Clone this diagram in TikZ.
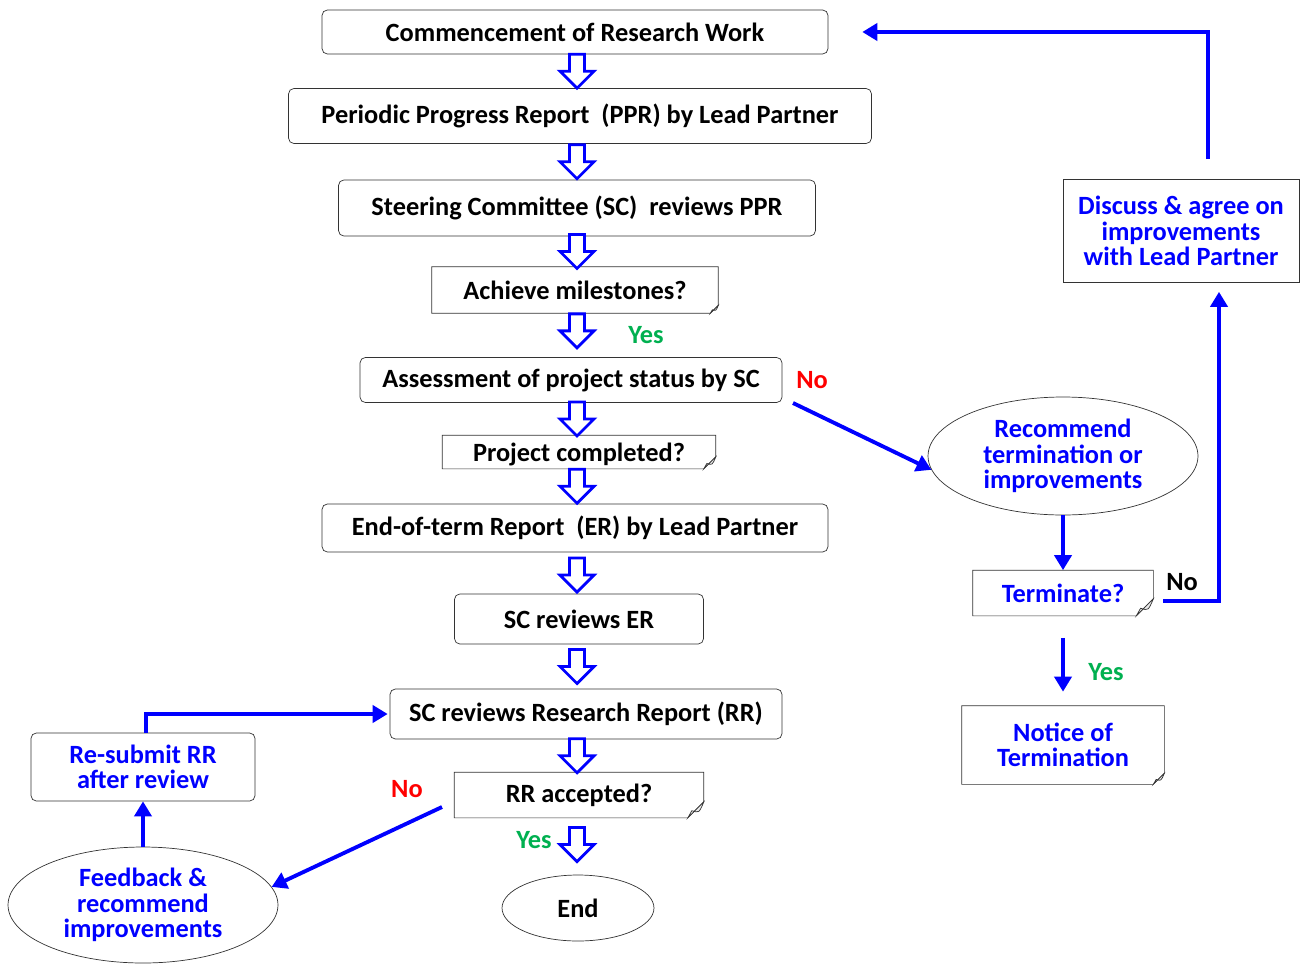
\documentclass[tikz,border=0pt]{standalone}
\usepackage{fontspec}
\setmainfont{Carlito}
\usepackage{tikz}
\usetikzlibrary{arrows.meta,shapes.geometric,calc}

\definecolor{okgreen}{RGB}{0,176,80}

% outline of a box with a folded bottom-right corner
\newcommand{\foldnote}[2][0.28cm]{%
  \draw[black!80, thin] (#2.north west) -- (#2.north east) -- ([yshift=#1]#2.south east)
    -- ([xshift=-#1]#2.south east) -- (#2.south west) -- cycle;
  \draw[black!80, thin, fill=black!8] ([yshift=#1]#2.south east)
    .. controls ([xshift=-0.3*#1,yshift=0.3*#1]#2.south east) .. ([xshift=-0.75*#1,yshift=0.45*#1]#2.south east)
    -- ([xshift=-#1]#2.south east) -- cycle;
}

\begin{document}
\begin{tikzpicture}[
                    x=0.02cm, y=-0.02cm,
                    box style/.style={
                        draw=black!80,
                        rounded corners=3pt,
                        align=center,
                        inner sep=0pt,
                        font=\bfseries\fontsize{15}{14.5}\selectfont
                    },
                    note style/.style={
                        align=center,
                        inner sep=0pt,
                        font=\bfseries\fontsize{15}{14.5}\selectfont
                    },
                    oval style/.style={
                        ellipse,
                        draw=black!80,
                        align=center,
                        inner sep=0pt,
                        font=\bfseries\fontsize{15}{14.5}\selectfont
                    },
                    hollow/.pic={
                        \draw[blue, line width=1.6pt, fill=white, line join=miter]
                            (-0.15cm,0.34cm) -- (0.15cm,0.34cm) -- (0.15cm,0cm) -- (0.34cm,0cm)
                            -- (0cm,-0.34cm) -- (-0.34cm,0cm) -- (-0.15cm,0cm) -- cycle;
                    },
                    flow style/.style={draw=blue, line width=2.2pt, -{Triangle[length=0.3cm,width=0.34cm]}},
                    tag style/.style={font=\bfseries\fontsize{15}{14.5}\selectfont}
                ]
    \useasboundingbox (0,0) rectangle (1307,963);

    % main column
    \node[box style, minimum width=10.12cm, minimum height=0.88cm] (comm) at (575,32) {Commencement of Research Work};
    \node[box style, minimum width=11.66cm, minimum height=1.10cm] (ppr) at (580,116) {Periodic Progress Report\ \ (PPR) by Lead Partner};
    \node[box style, minimum width=9.54cm, minimum height=1.12cm] (scppr) at (577,208) {Steering Committee (SC)\ \ reviews PPR};
    \node[note style, minimum width=5.72cm, minimum height=0.92cm] (miles) at (575,290) {Achieve milestones?};
    \node[box style, minimum width=8.44cm, minimum height=0.90cm] (assess) at (571,380) {Assessment of project status by SC};
    \node[note style, minimum width=5.46cm, minimum height=0.66cm, text depth=-4pt] (compl) at (579,452) {Project completed?};
    \node[box style, minimum width=10.12cm, minimum height=0.96cm] (er) at (575,528) {End-of-term Report\ \ (ER) by Lead Partner};
    \node[box style, minimum width=4.98cm, minimum height=1.00cm] (scer) at (579,619) {SC reviews ER};
    \node[box style, minimum width=7.84cm, minimum height=1.00cm] (scrr) at (586,714) {SC reviews Research Report (RR)};
    \node[note style, minimum width=4.98cm, minimum height=0.90cm] (rracc) at (579,795) {RR accepted?};
    \node[oval style, minimum width=3.04cm, minimum height=1.32cm] (end) at (578,908) {End};

    % left loop
    \node[box style, text=blue, minimum width=4.48cm, minimum height=1.36cm] (resub) at (143,767) {Re-submit RR\\after review};
    \node[oval style, text=blue, minimum width=5.40cm, minimum height=2.32cm] (feedb) at (143,905) {Feedback \&\\recommend\\improvements};

    % right loop
    \node[oval style, text=blue, minimum width=5.40cm, minimum height=2.36cm] (recom) at (1063,456) {Recommend\\termination or\\improvements};
    \node[note style, text=blue, minimum width=3.60cm, minimum height=0.90cm] (term) at (1063,593) {Terminate?};
    \node[note style, text=blue, minimum width=4.04cm, minimum height=1.56cm] (notice) at (1063,745) {Notice of\\Termination};
    \node[box style, rounded corners=0pt, text=blue, minimum width=4.72cm, minimum height=2.06cm] (discuss) at (1181,231) {Discuss \& agree on\\improvements\\with Lead Partner};

    \foldnote[0.16cm]{miles}
    \foldnote[0.24cm]{compl}
    \foldnote[0.32cm]{rracc}
    \foldnote[0.34cm]{term}
    \foldnote[0.22cm]{notice}

    % hollow arrows down the column
    \coordinate (colx) at (577,0);
    \pic (h1) at ($(comm.south -| colx)!0.5!(ppr.north -| colx)$) {hollow};
    \pic (h2) at ($(ppr.south -| colx)!0.5!(scppr.north -| colx)$) {hollow};
    \pic (h3) at ($(scppr.south -| colx)!0.5!(miles.north -| colx)$) {hollow};
    \pic (h4) at ($(miles.south -| colx)!0.4!(assess.north -| colx)$) {hollow};
    \pic (h5) at ($(assess.south -| colx)!0.5!(compl.north -| colx)$) {hollow};
    \pic (h6) at ($(compl.south -| colx)!0.5!(er.north -| colx)$) {hollow};
    \pic (h7) at ($(er.south -| colx)!0.55!(scer.north -| colx)$) {hollow};
    \pic (h8) at ($(scer.south -| colx)!0.5!(scrr.north -| colx)$) {hollow};
    \pic (h9) at ($(scrr.south -| colx)!0.5!(rracc.north -| colx)$) {hollow};
    \pic (h10) at ($(rracc.south -| colx)!0.47!(end.north -| colx)$) {hollow};

    % yes / no labels
    \node[tag style, text=okgreen] (yes1) at (646,335) {Yes};
    \node[tag style, text=red] (no1) at (812,380) {No};
    \node[tag style] (no2) at (1182,582) {No};
    \node[tag style, text=okgreen] (yes2) at (1106,672) {Yes};
    \node[tag style, text=red] (no3) at (407,789) {No};
    \node[tag style, text=okgreen] (yes3) at (534,840) {Yes};

    % solid connectors
    \coordinate (nos) at (793,403);
    \coordinate (rrno) at (442,807);
    \coordinate (termno) at (1163,601);
    \draw[flow style] (nos) -- (recom.186);
    \draw[flow style] (recom.south) -- (term.north);
    \draw[flow style, shorten >=0.18cm] (termno) -| ([xshift=0.76cm]discuss.south);
    \draw[flow style, shorten >=0.68cm] ([xshift=0.54cm,yshift=0.4cm]discuss.north) |- (comm.east);
    \draw[flow style, shorten <=0.44cm, shorten >=0.28cm] (term.south) -- (notice.north);
    \draw[flow style] (rrno) -- (feedb.8);
    \draw[flow style] (feedb.north) -- (resub.south);
    \draw[flow style, shorten >=0.04cm] ([xshift=0.06cm]resub.north) |- (scrr.west);
\end{tikzpicture}
\end{document}
